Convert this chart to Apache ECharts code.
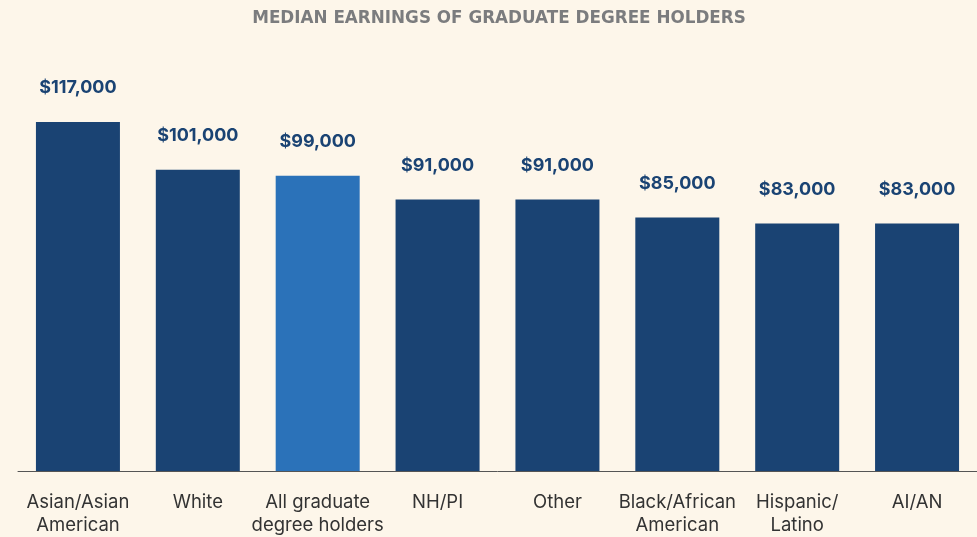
<!DOCTYPE html>
<html>
<head>
<meta charset="utf-8">
<script src="https://cdn.jsdelivr.net/npm/echarts@6/dist/echarts.min.js"></script>
<style>
html,body{margin:0;padding:0;background:#fdf6ea;}
#chart{width:977px;height:537px;}
</style>
</head>
<body>
<div id="chart"></div>
<script>
// categories and values
var groups = ['Asian/Asian\nAmerican', 'White', 'All graduate\ndegree holders', 'NH/PI', 'Other', 'Black/African\nAmerican', 'Hispanic/\nLatino', 'AI/AN'];
var earnings = [117000, 101000, 99000, 91000, 91000, 85000, 83000, 83000];
var highlightIndex = 2;

var darkBlue = '#1a4373';
var lightBlue = '#2b72b9';

var chart = echarts.init(document.getElementById('chart'));

var barData = [];
for (var i = 0; i < earnings.length; i++) {
	barData.push({
		value: earnings[i],
		itemStyle: { color: i == highlightIndex ? lightBlue : darkBlue }
	});
}

chart.setOption({
	backgroundColor: '#fdf6ea',
	title: {
		text: 'MEDIAN EARNINGS OF GRADUATE DEGREE HOLDERS',
		left: 494,
		textAlign: 'center',
		top: 5,
		textStyle: {
			fontFamily: 'DejaVu Sans',
			fontWeight: 'bold',
			fontSize: 16.8,
			color: '#7b7c7e'
		}
	},
	grid: {
		left: 18,
		top: 113,
		width: 963,
		height: 360
	},
	xAxis: {
		type: 'category',
		data: groups,
		axisLine: { lineStyle: { color: '#555', width: 1 } },
		axisTick: { show: false },
		axisLabel: {
			interval: 0,
			margin: 20,
			fontFamily: 'Inter',
			fontSize: 18.5,
			lineHeight: 23,
			color: '#333'
		}
	},
	yAxis: {
		type: 'value',
		min: 0,
		max: 120000,
		show: false,
		splitLine: { show: false }
	},
	series: [{
		type: 'bar',
		data: barData,
		barWidth: 84,
		label: {
			show: true,
			position: 'top',
			distance: 25,
			fontFamily: 'Inter',
			fontWeight: 'bold',
			fontSize: 18,
			color: darkBlue,
			formatter: function (p) {
				return '$' + p.value.toLocaleString('en-US');
			}
		}
	}]
});
</script>
</body>
</html>
